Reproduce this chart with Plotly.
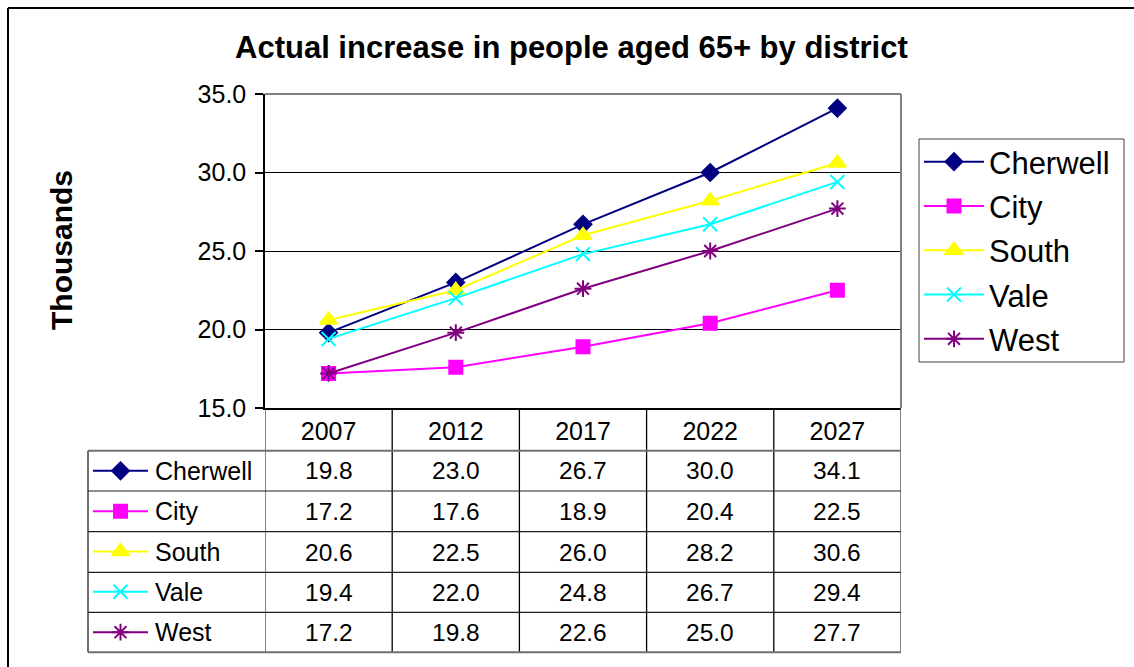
import plotly.graph_objects as go

# ---------------- data ----------------
years = ["2007", "2012", "2017", "2022", "2027"]
series_names = ["Cherwell", "City", "South", "Vale", "West"]
cherwell = [19.8, 23.0, 26.7, 30.0, 34.1]
city = [17.2, 17.6, 18.9, 20.4, 22.5]
south = [20.6, 22.5, 26.0, 28.2, 30.6]
vale = [19.4, 22.0, 24.8, 26.7, 29.4]
west = [17.2, 19.8, 22.6, 25.0, 27.7]
values = [cherwell, city, south, vale, west]

title_text = "Actual increase in people aged 65+ by district"
y_title = "Thousands"

# ---------------- styles ----------------
colors = ["#000080", "#FF00FF", "#FFFF00", "#00FFFF", "#800080"]
symbols = ["diamond", "square", "triangle-up", "x-thin-open", "asterisk-open"]
msizes = [13, 13, 15, 14, 14]
FONT = "Liberation Sans, Arial, sans-serif"

W, H = 1134, 667
def px(x):
    return x / W
def py(y):
    return 1 - y / H

# plot area (pixels)
PL, PR, PT, PB = 265, 901, 94, 408
# table rows (pixels)
row_lines = [450.7, 491, 531.7, 572.3, 612.3, 652.3]
TL = 88
# legend box (pixels)
LL, LT, LR, LB = 919, 139, 1124, 362

fig = go.Figure()

for i, name in enumerate(series_names):
    fig.add_trace(go.Scatter(
        x=years, y=values[i], name=name, mode="lines+markers",
        legendgroup=name,
        line=dict(color=colors[i], width=2),
        marker=dict(symbol=symbols[i], size=msizes[i], color=colors[i],
                    line=dict(color=colors[i], width=2)),
        xaxis="x", yaxis="y",
    ))

# table legend keys on overlay axis
for i, name in enumerate(series_names):
    fig.add_trace(go.Scatter(
        x=[5, 60], y=[i, i], mode="lines", showlegend=False, hoverinfo="skip",
        line=dict(color=colors[i], width=2), xaxis="x2", yaxis="y2",
    ))
    fig.add_trace(go.Scatter(
        x=[32.5], y=[i], mode="markers", showlegend=False, hoverinfo="skip",
        marker=dict(symbol=symbols[i], size=msizes[i], color=colors[i],
                    line=dict(color=colors[i], width=2)),
        xaxis="x2", yaxis="y2",
    ))

shapes = []
# outer chart border (left and top visible)
shapes.append(dict(type="line", xref="paper", yref="paper", x0=px(8), x1=px(8),
                   y0=py(8), y1=py(H + 5), line=dict(color="black", width=2)))
shapes.append(dict(type="line", xref="paper", yref="paper", x0=px(8), x1=px(W + 5),
                   y0=py(8), y1=py(8), line=dict(color="black", width=2)))
# plot area top/right border gray
shapes.append(dict(type="line", xref="paper", yref="paper", x0=px(PL), x1=px(PR),
                   y0=py(PT), y1=py(PT), line=dict(color="#808080", width=2)))
shapes.append(dict(type="line", xref="paper", yref="paper", x0=px(PR), x1=px(PR),
                   y0=py(PT), y1=py(PB), line=dict(color="#808080", width=2)))
# legend box
shapes.append(dict(type="rect", xref="paper", yref="paper", x0=px(LL), x1=px(LR),
                   y0=py(LB), y1=py(LT), line=dict(color="#404040", width=1),
                   fillcolor="white", layer="below"))

# table: vertical column lines (aligned with the category axis)
for k in range(len(years) + 1):
    shapes.append(dict(type="line", xref="x", yref="paper", x0=k - 0.5, x1=k - 0.5,
                       y0=py(PB), y1=py(row_lines[-1]),
                       line=dict(color="#000000" if 0 < k < len(years) else "#404040", width=1.3)))
# left border of label column
shapes.append(dict(type="line", xref="paper", yref="paper", x0=px(TL), x1=px(TL),
                   y0=py(row_lines[0]), y1=py(row_lines[-1]),
                   line=dict(color="#404040", width=1.5)))
# horizontal row lines
for j, yl in enumerate(row_lines):
    outer = j == 0 or j == len(row_lines) - 1
    shapes.append(dict(type="line", xref="paper", yref="paper", x0=px(TL), x1=px(PR),
                       y0=py(yl), y1=py(yl),
                       line=dict(color="#707070" if outer else "#202020", width=2 if outer else 1.2)))

annotations = []
# title
annotations.append(dict(text="<b>" + title_text + "</b>", xref="paper", yref="paper",
                        x=px(571), y=py(48), showarrow=False, xanchor="center", yanchor="middle",
                        font=dict(family=FONT, size=31, color="black")))
# y axis title
annotations.append(dict(text="<b>" + y_title + "</b>", xref="paper", yref="paper",
                        x=px(62), y=py(250), showarrow=False, textangle=-90,
                        xanchor="center", yanchor="middle",
                        font=dict(family=FONT, size=30, color="black")))
# table values and row labels
for i, name in enumerate(series_names):
    yc = (row_lines[i] + row_lines[i + 1]) / 2
    annotations.append(dict(text=name, xref="paper", yref="paper", x=px(153), y=py(yc),
                            showarrow=False, xanchor="left", yanchor="middle",
                            font=dict(family=FONT, size=25, color="black")))
    for k, v in enumerate(values[i]):
        annotations.append(dict(text=f"{v:.1f}", xref="x", yref="paper", x=k, y=py(yc),
                                showarrow=False, xanchor="center", yanchor="middle",
                                font=dict(family=FONT, size=24.5, color="black")))

fig.update_layout(
    width=W, height=H,
    margin=dict(l=0, r=0, t=0, b=0, autoexpand=False),
    paper_bgcolor="white", plot_bgcolor="white",
    font=dict(family=FONT, size=24, color="black"),
    showlegend=True,
    legend=dict(
        x=px(LL), y=py(LT - 4), xanchor="left", yanchor="top",
        borderwidth=0, bgcolor="rgba(0,0,0,0)",
        font=dict(family=FONT, size=31, color="black"),
        tracegroupgap=1, itemwidth=60,
    ),
    xaxis=dict(
        domain=[px(PL), px(PR)], type="category", range=[-0.5, len(years) - 0.5],
        showgrid=False, zeroline=False, showline=True, linecolor="black", linewidth=1.5,
        ticks="", tickfont=dict(family=FONT, size=25, color="black"),
        ticklabelstandoff=0, fixedrange=True, automargin=False,
    ),
    yaxis=dict(
        domain=[py(PB), py(PT)], range=[15, 35], dtick=5, tick0=15, tickformat=".1f",
        showgrid=True, gridcolor="black", gridwidth=1, zeroline=False,
        showline=True, linecolor="black", linewidth=1.5,
        ticks="outside", ticklen=8, tickcolor="black", tickwidth=1.5,
        tickfont=dict(family=FONT, size=25, color="black"), ticklabelstandoff=4,
        fixedrange=True, automargin=False,
    ),
    xaxis2=dict(domain=[px(TL), px(PL)], range=[0, PL - TL], visible=False,
                fixedrange=True, automargin=False),
    yaxis2=dict(domain=[py(row_lines[-1]), py(row_lines[0])], range=[4.5, -0.5],
                visible=False, fixedrange=True, anchor="x2", automargin=False),
    shapes=shapes,
    annotations=annotations,
)

fig.write_html("out.html")
